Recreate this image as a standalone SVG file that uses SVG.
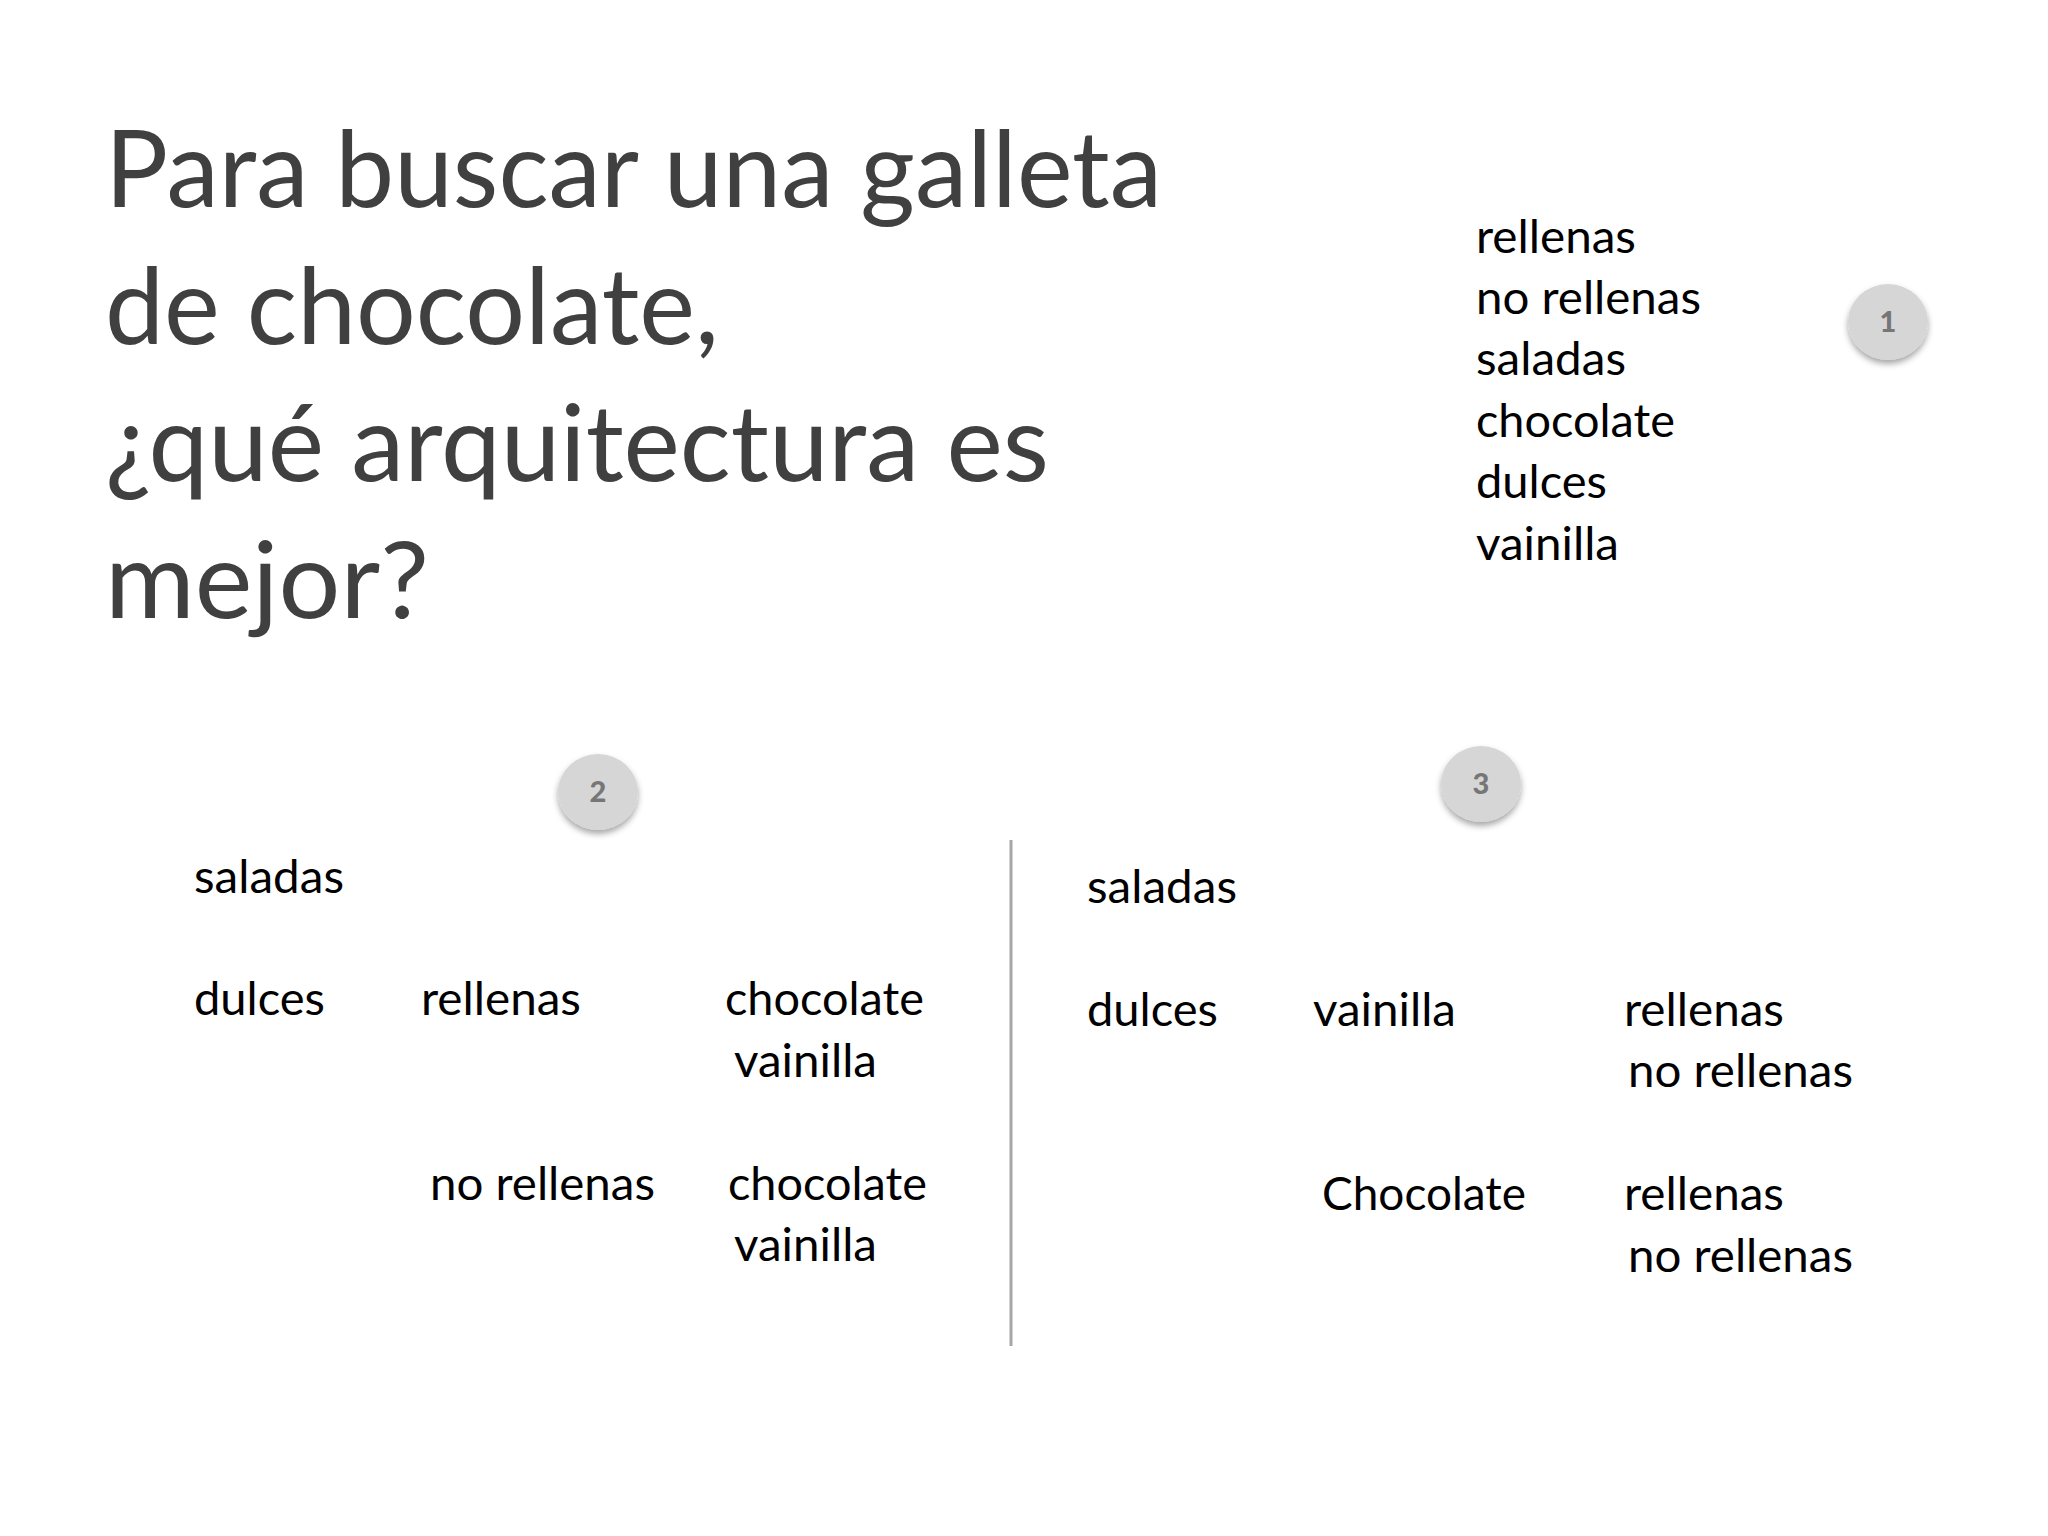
<svg xmlns="http://www.w3.org/2000/svg" width="2048" height="1536" viewBox="0 0 2048 1536">
  <style>
    .title { font-family: Lato, "Open Sans", "Liberation Sans", sans-serif; font-size: 106px; fill: #404040; }
    .item { font-family: Lato, "Open Sans", "Liberation Sans", sans-serif; font-size: 47px; fill: #000000; }
    .badge { fill: #d6d6d6; filter: url(#shadow); }
    .num { font-family: Lato, "Open Sans", "Liberation Sans", sans-serif; font-size: 29px; font-weight: 900; fill: #767676; text-anchor: middle; }
    .divider { stroke: #a6a6a6; stroke-width: 3; }
  </style>
  <defs>
    <filter id="shadow" x="-40%" y="-40%" width="180%" height="190%">
      <feDropShadow dx="0" dy="4" stdDeviation="3" flood-color="#000000" flood-opacity="0.35"/>
    </filter>
  </defs>
  <rect width="2048" height="1536" fill="#ffffff"/>

  <g id="title">
    <text class="title" x="105" y="207" textLength="1057" lengthAdjust="spacingAndGlyphs">Para buscar una galleta</text>
    <text class="title" x="105" y="344" textLength="614" lengthAdjust="spacingAndGlyphs">de chocolate,</text>
    <text class="title" x="105" y="481" textLength="944" lengthAdjust="spacingAndGlyphs">¿qué arquitectura es</text>
    <text class="title" x="105" y="618" textLength="324" lengthAdjust="spacingAndGlyphs">mejor?</text>
  </g>

  <g id="option-1-list">
    <text class="item" x="1476" y="253" textLength="160" lengthAdjust="spacingAndGlyphs">rellenas</text>
    <text class="item" x="1476" y="314" textLength="225" lengthAdjust="spacingAndGlyphs">no rellenas</text>
    <text class="item" x="1476" y="375" textLength="150" lengthAdjust="spacingAndGlyphs">saladas</text>
    <text class="item" x="1476" y="437" textLength="199" lengthAdjust="spacingAndGlyphs">chocolate</text>
    <text class="item" x="1476" y="498" textLength="131" lengthAdjust="spacingAndGlyphs">dulces</text>
    <text class="item" x="1476" y="560" textLength="143" lengthAdjust="spacingAndGlyphs">vainilla</text>
  </g>

  <g id="badge-1">
    <ellipse class="badge" cx="1888" cy="322" rx="40" ry="38"/>
    <text class="num" x="1888" y="332">1</text>
  </g>
  <g id="badge-2">
    <ellipse class="badge" cx="598" cy="792" rx="40" ry="38"/>
    <text class="num" x="598" y="802">2</text>
  </g>
  <g id="badge-3">
    <ellipse class="badge" cx="1481" cy="784" rx="40" ry="38"/>
    <text class="num" x="1481" y="794">3</text>
  </g>

  <g id="option-2">
    <text class="item" x="194" y="893" textLength="150" lengthAdjust="spacingAndGlyphs">saladas</text>
    <text class="item" x="194" y="1015" textLength="131" lengthAdjust="spacingAndGlyphs">dulces</text>
    <text class="item" x="421" y="1015" textLength="160" lengthAdjust="spacingAndGlyphs">rellenas</text>
    <text class="item" x="725" y="1015" textLength="199" lengthAdjust="spacingAndGlyphs">chocolate</text>
    <text class="item" x="734" y="1077" textLength="143" lengthAdjust="spacingAndGlyphs">vainilla</text>
    <text class="item" x="430" y="1200" textLength="225" lengthAdjust="spacingAndGlyphs">no rellenas</text>
    <text class="item" x="728" y="1200" textLength="199" lengthAdjust="spacingAndGlyphs">chocolate</text>
    <text class="item" x="734" y="1261" textLength="143" lengthAdjust="spacingAndGlyphs">vainilla</text>
  </g>

  <g id="divider-line">
    <line class="divider" x1="1011" y1="840" x2="1011" y2="1346"/>
  </g>

  <g id="option-3">
    <text class="item" x="1087" y="903" textLength="150" lengthAdjust="spacingAndGlyphs">saladas</text>
    <text class="item" x="1087" y="1026" textLength="131" lengthAdjust="spacingAndGlyphs">dulces</text>
    <text class="item" x="1313" y="1026" textLength="143" lengthAdjust="spacingAndGlyphs">vainilla</text>
    <text class="item" x="1624" y="1026" textLength="160" lengthAdjust="spacingAndGlyphs">rellenas</text>
    <text class="item" x="1628" y="1087" textLength="225" lengthAdjust="spacingAndGlyphs">no rellenas</text>
    <text class="item" x="1322" y="1210" textLength="204" lengthAdjust="spacingAndGlyphs">Chocolate</text>
    <text class="item" x="1624" y="1210" textLength="160" lengthAdjust="spacingAndGlyphs">rellenas</text>
    <text class="item" x="1628" y="1272" textLength="225" lengthAdjust="spacingAndGlyphs">no rellenas</text>
  </g>
</svg>
